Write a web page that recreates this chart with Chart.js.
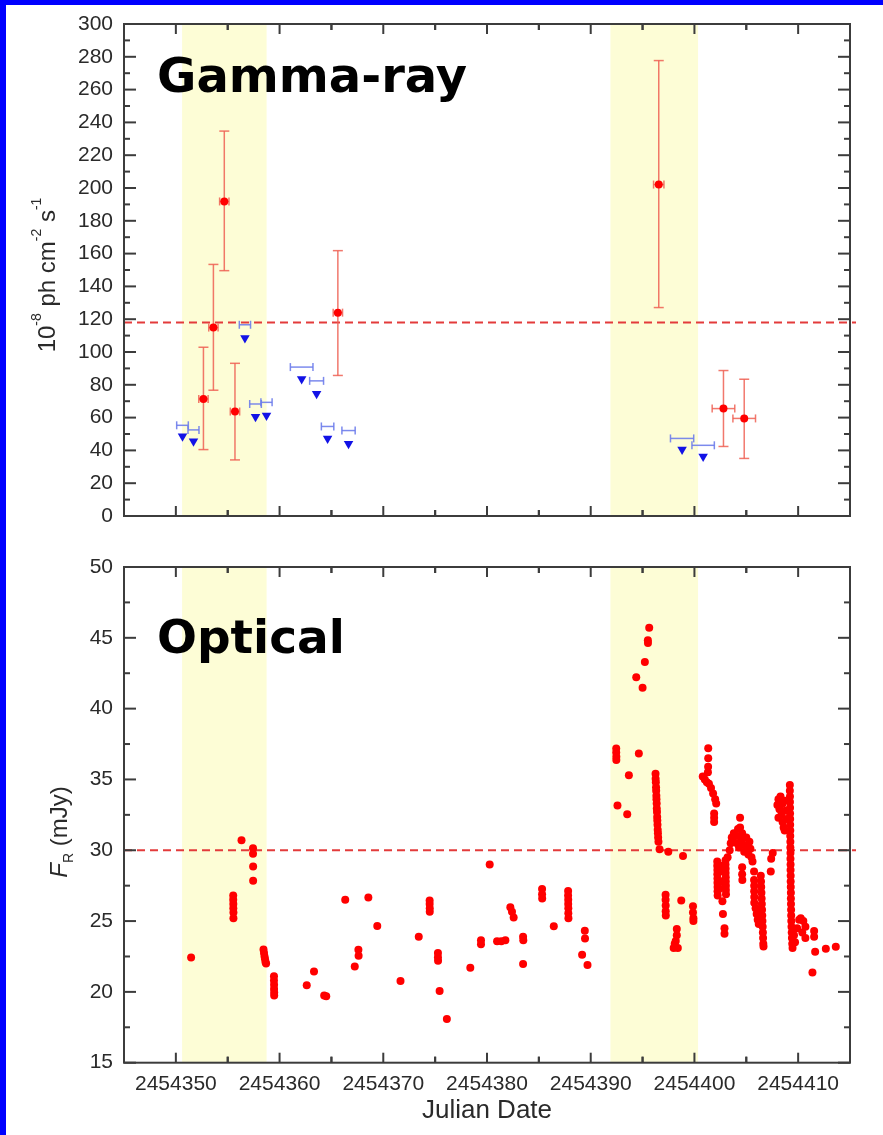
<!DOCTYPE html>
<html>
<head>
<meta charset="utf-8">
<script src="https://cdn.jsdelivr.net/npm/chart.js@4.4.1/dist/chart.umd.min.js"></script>
<style>
html, body { margin: 0; padding: 0; background: #fff; }
#wrap { position: relative; width: 883px; height: 1135px; overflow: hidden; background: #fff; }
#gamma { position: absolute; left: 0; top: 0; }
#optical { position: absolute; left: 0; top: 540px; }
.edge { position: absolute; background: #0000ff; }
</style>
</head>
<body>
<div id="wrap">
  <canvas id="gamma" width="883" height="540"></canvas>
  <canvas id="optical" width="883" height="595"></canvas>
  <div class="edge" style="left:0;top:0;width:6px;height:1135px"></div>
  <div class="edge" style="left:0;top:0;width:883px;height:5px"></div>
</div>
<script>
// axes
var JD0 = 2454350;
var xTicks = [2454350, 2454360, 2454370, 2454380, 2454390, 2454400, 2454410];
var gammaTicks = [0, 20, 40, 60, 80, 100, 120, 140, 160, 180, 200, 220, 240, 260, 280, 300];
var opticalTicks = [15, 20, 25, 30, 35, 40, 45, 50];
var flareBands = [[2454350.6, 2454358.75], [2454391.9, 2454400.35]];
var gammaMean = 118;
var opticalMean = 30;

// gamma-ray detections (1e-8 ph cm-2 s-1)
var detDay    = [2454352.66, 2454353.62, 2454354.67, 2454355.70, 2454365.62, 2454396.56, 2454402.80, 2454404.80];
var detFlux   = [71.4, 114.9, 191.8, 63.7, 124.0, 202.1, 65.5, 59.5];
var detLow    = [40.5, 76.7, 149.6, 34.2, 85.7, 127.1, 42.4, 35.1];
var detHigh   = [102.9, 153.4, 234.7, 93.1, 161.8, 277.7, 88.7, 83.4];
var detDayErr = [0.45, 0.45, 0.45, 0.45, 0.45, 0.5, 1.09, 1.09];

// gamma-ray upper limits
var ulDay    = [2454350.64, 2454351.70, 2454356.66, 2454357.68, 2454358.74, 2454362.13, 2454363.57, 2454364.63, 2454366.65, 2454398.81, 2454400.84];
var ulFlux   = [55.3, 52.5, 116.6, 68.3, 69.3, 90.8, 82.4, 54.6, 52.1, 47.3, 43.1];
var ulArrow  = [48.7, 45.6, 108.6, 60.5, 61.3, 83.6, 74.6, 47.3, 44.1, 40.5, 36.3];
var ulDayErr = [0.56, 0.53, 0.54, 0.56, 0.54, 1.09, 0.67, 0.6, 0.64, 1.12, 1.08];

// optical R-band flux, day = JD - JD0
var optDay = [
  1.47,
  5.53, 5.53, 5.54, 5.54, 5.55, 5.55,
  6.33,
  7.44, 7.44, 7.45, 7.45,
  8.45, 8.5, 8.55, 8.6, 8.65, 8.7,
  9.46, 9.46, 9.47, 9.47, 9.48, 9.48,
  12.62, 13.32, 14.3, 14.5, 16.33, 17.25, 17.6, 17.62, 18.56, 19.42, 21.66, 23.42,
  24.47, 24.47, 24.48, 24.48,
  25.27, 25.27, 25.28, 25.43, 26.13,
  28.39, 29.42, 29.42, 30.26, 30.97, 31.38, 31.77,
  32.25, 32.41, 32.57, 33.48, 33.5, 33.48,
  35.31, 35.31, 35.32, 36.44,
  37.82, 37.82, 37.83, 37.83, 37.84, 37.84, 37.85,
  39.17, 39.43, 39.45, 39.69,
  42.46, 42.46, 42.47, 42.47, 42.58, 43.52, 43.68,
  44.39, 44.64, 45.0, 45.22, 45.51, 45.52, 45.64,
  46.25, 46.26, 46.28, 46.3, 46.31, 46.33, 46.34, 46.36, 46.37, 46.39, 46.41, 46.42, 46.44, 46.46, 46.48, 46.5, 46.53,
  46.64, 47.48, 48.9,
  47.22, 47.22, 47.23, 47.23, 47.24,
  48.3, 48.3, 48.2, 48.1, 48.0, 48.4,
  48.73, 49.86, 49.86, 49.9, 49.9,
  51.33, 51.33, 51.32, 51.3, 50.8, 51.0, 51.2, 51.4, 51.6, 51.8, 52.0, 52.1, 51.9, 51.9, 51.9,
  52.2, 52.2, 52.21, 52.21, 52.22, 52.22, 52.23, 52.23, 52.24,
  53.0, 53.0, 53.01, 53.01, 53.02, 53.02, 53.03, 53.03, 53.04,
  52.5, 52.6, 52.4, 52.7, 52.7, 52.75, 52.9, 52.9,
  53.2, 53.4, 53.5, 53.6, 53.7, 53.8, 54.0, 54.1, 54.2, 54.3, 54.4, 54.4, 54.5, 54.6, 54.7, 54.8, 55.0, 55.1, 55.2, 55.3, 55.4, 55.5, 55.6,
  54.6, 54.6, 54.62,
  55.75, 55.75, 55.76, 55.76, 55.77, 55.77,
  55.9, 56.0, 56.1, 56.2,
  56.4, 56.42, 56.44, 56.46, 56.48, 56.5, 56.52, 56.54, 56.56, 56.58, 56.6, 56.62, 56.64, 56.66,
  57.55, 57.4, 57.36,
  58.0, 58.1, 58.2, 58.3, 58.4, 58.5, 58.5, 58.6, 58.7, 58.8, 58.9, 58.7, 58.1,
  59.2, 59.2, 59.21, 59.21, 59.22, 59.22, 59.23, 59.23, 59.24, 59.24, 59.25, 59.25, 59.26, 59.26, 59.27,
  59.27, 59.28, 59.28, 59.29, 59.3, 59.3, 59.31, 59.32, 59.33, 59.34, 59.36, 59.38, 59.4, 59.43, 59.46,
  59.6, 59.7, 59.9, 60.1, 60.25, 60.5, 60.7, 60.4, 60.7,
  61.54, 61.54, 61.38, 61.64, 62.67, 63.63
];
var optFlux = [
  22.43,
  26.8, 26.5, 26.2, 25.9, 25.6, 25.2,
  30.7,
  30.15, 29.75, 28.85, 27.85,
  23.0, 22.75, 22.5, 22.3, 22.1, 22.0,
  21.1, 20.8, 20.5, 20.2, 19.95, 19.75,
  20.47, 21.44, 19.75, 19.7, 26.5, 21.8, 22.97, 22.55, 26.67, 24.66, 20.77, 23.9,
  26.45, 26.2, 25.9, 25.65,
  22.75, 22.45, 22.2, 20.07, 18.08,
  21.7, 23.64, 23.37, 29.0, 23.58, 23.58, 23.64,
  25.97, 25.65, 25.25, 23.9, 23.64, 21.97,
  27.26, 26.9, 26.59, 24.63,
  27.12, 26.8, 26.5, 26.2, 25.9, 25.55, 25.2,
  22.62, 24.31, 23.77, 21.89,
  37.18, 36.9, 36.6, 36.37, 33.16, 32.54, 35.3,
  42.22, 36.83, 41.47, 43.29, 44.82, 44.63, 45.71,
  35.4, 35.05, 34.8, 34.45, 34.2, 33.85, 33.6, 33.3, 32.95, 32.7, 32.35, 32.1, 31.8, 31.45, 31.2, 30.9, 30.6,
  30.07, 29.9, 29.6,
  26.85, 26.5, 26.1, 25.7, 25.4,
  24.44, 24.0, 23.6, 23.4, 23.1, 23.1,
  26.45, 26.05, 25.6, 25.2, 25.0,
  37.2, 36.5, 35.9, 35.5, 35.2, 35.0, 34.8, 34.7, 34.4, 34.0, 33.6, 33.3, 32.6, 32.3, 32.0,
  29.2, 28.9, 28.6, 28.3, 28.0, 27.7, 27.4, 27.1, 26.8,
  29.3, 29.0, 28.7, 28.4, 28.1, 27.8, 27.5, 27.2, 26.9,
  28.5, 27.8, 27.3, 28.9, 26.4, 25.5, 24.5, 24.1,
  29.5, 30.0, 30.5, 30.9, 30.6, 31.2, 31.0, 30.5, 31.5, 30.2, 32.3, 31.6, 30.8, 31.2, 30.4, 29.9, 30.9, 30.3, 29.7, 30.6, 30.1, 29.5, 29.2,
  28.8, 28.3, 27.9,
  28.5, 27.9, 27.5, 27.1, 26.7, 26.3,
  25.9, 25.5, 25.1, 24.8,
  28.2, 27.8, 27.4, 27.0, 26.6, 26.2, 25.8, 25.4, 25.0, 24.6, 24.2, 23.8, 23.4, 23.2,
  29.8, 29.4, 28.5,
  33.2, 33.6, 32.9, 33.8, 32.5, 33.3, 32.0, 31.6, 33.5, 32.8, 32.2, 31.4, 32.3,
  34.6, 34.2, 33.8, 33.4, 33.0, 32.6, 32.2, 31.8, 31.4, 31.0, 30.6, 30.2, 29.8, 29.4, 29.0,
  28.6, 28.2, 27.8, 27.4, 27.0, 26.6, 26.2, 25.8, 25.4, 25.0, 24.6, 24.2, 23.8, 23.4, 23.1,
  24.0, 23.5, 24.5, 25.1, 25.2, 25.0, 24.6, 24.2, 23.8,
  24.3, 23.9, 21.36, 22.83, 23.05, 23.18
];

var TXT = '#2a2a2a';
var FONT = '"Liberation Sans", Arial, sans-serif';

function line(ctx, x0, y0, x1, y1) {
  ctx.beginPath(); ctx.moveTo(x0, y0); ctx.lineTo(x1, y1); ctx.stroke();
}

function drawParts(ctx, parts, cx, cy) {
  ctx.save();
  ctx.translate(cx, cy);
  ctx.rotate(-Math.PI / 2);
  ctx.fillStyle = TXT;
  ctx.textBaseline = 'alphabetic';
  var w = 0;
  parts.forEach(function (p) { ctx.font = p.font; w += ctx.measureText(p.text).width; });
  var x = -w / 2;
  parts.forEach(function (p) {
    ctx.font = p.font;
    ctx.fillText(p.text, x, p.dy);
    x += ctx.measureText(p.text).width;
  });
  ctx.restore();
}

function drawGammaErrors(chart) {
  var ctx = chart.ctx, xs = chart.scales.x, ys = chart.scales.y;
  ctx.lineWidth = 1.5;
  ctx.strokeStyle = 'rgba(238,96,84,0.85)';
  for (var i = 0; i < detDay.length; i++) {
    var px = xs.getPixelForValue(detDay[i]), py = ys.getPixelForValue(detFlux[i]);
    var pt = ys.getPixelForValue(detHigh[i]), pb = ys.getPixelForValue(detLow[i]);
    var pl = xs.getPixelForValue(detDay[i] - detDayErr[i]), pr = xs.getPixelForValue(detDay[i] + detDayErr[i]);
    line(ctx, px, pt, px, pb);
    line(ctx, px - 5, pt, px + 5, pt);
    line(ctx, px - 5, pb, px + 5, pb);
    line(ctx, pl, py, pr, py);
    line(ctx, pl, py - 4, pl, py + 4);
    line(ctx, pr, py - 4, pr, py + 4);
  }
  ctx.strokeStyle = 'rgba(110,125,235,0.9)';
  for (var j = 0; j < ulDay.length; j++) {
    var uy = ys.getPixelForValue(ulFlux[j]);
    var ul = xs.getPixelForValue(ulDay[j] - ulDayErr[j]), ur = xs.getPixelForValue(ulDay[j] + ulDayErr[j]);
    line(ctx, ul, uy, ur, uy);
    line(ctx, ul, uy - 4, ul, uy + 4);
    line(ctx, ur, uy - 4, ur, uy + 4);
  }
}

function decor(opt) {
  return {
    id: 'decor',
    beforeDatasetsDraw: function (chart) {
      var ctx = chart.ctx, a = chart.chartArea, xs = chart.scales.x, ys = chart.scales.y;
      ctx.save();
      ctx.fillStyle = '#fdfdd6';
      flareBands.forEach(function (b) {
        var x0 = xs.getPixelForValue(b[0]), x1 = xs.getPixelForValue(b[1]);
        ctx.fillRect(x0, a.top, x1 - x0, a.bottom - a.top);
      });
      ctx.fillStyle = '#000';
      ctx.font = 'bold ' + opt.labelSize + 'px "DejaVu Sans", Verdana, sans-serif';
      ctx.textBaseline = 'alphabetic';
      ctx.fillText(opt.label, a.left + 33, a.top + opt.labelBase);
      var ym = ys.getPixelForValue(opt.mean);
      ctx.strokeStyle = '#e33b3b';
      ctx.lineWidth = 2;
      ctx.setLineDash([8, 5]);
      line(ctx, a.left, ym, a.right + 6, ym);
      ctx.setLineDash([]);
      if (opt.errors) opt.errors(chart);
      ctx.restore();
    },
    afterDraw: function (chart) {
      var ctx = chart.ctx, a = chart.chartArea, xs = chart.scales.x, ys = chart.scales.y;
      ctx.save();
      ctx.strokeStyle = '#3c3c3c';
      ctx.lineWidth = 2;
      ctx.strokeRect(a.left, a.top, a.right - a.left, a.bottom - a.top);
      var xmin = xs.min, xmax = xs.max;
      xTicks.forEach(function (v) {
        var p = xs.getPixelForValue(v);
        line(ctx, p, a.bottom, p, a.bottom - 10);
        line(ctx, p, a.top, p, a.top + 10);
        [v - 5, v + 5].forEach(function (m) {
          if (m > xmin && m < xmax) {
            var q = xs.getPixelForValue(m);
            line(ctx, q, a.bottom, q, a.bottom - 6);
            line(ctx, q, a.top, q, a.top + 6);
          }
        });
      });
      var yt = ys.ticks, half = (yt[1].value - yt[0].value) / 2;
      yt.forEach(function (t) {
        var p = ys.getPixelForValue(t.value);
        line(ctx, a.left, p, a.left + 12, p);
        line(ctx, a.right, p, a.right - 12, p);
        if (t.value + half < ys.max) {
          var q = ys.getPixelForValue(t.value + half);
          line(ctx, a.left, q, a.left + 6, q);
          line(ctx, a.right, q, a.right - 6, q);
        }
      });
      drawParts(ctx, opt.yTitle, opt.yTitleX, opt.yTitleY);
      if (opt.xTitle) {
        ctx.fillStyle = TXT;
        ctx.font = '26px ' + FONT;
        ctx.textAlign = 'center';
        ctx.textBaseline = 'middle';
        ctx.fillText(opt.xTitle, (a.left + a.right) / 2, opt.xTitleY);
      }
      ctx.restore();
    }
  };
}

function panelOptions(ymin, ymax, yticks, showX, xHeight, padTop) {
  return {
    responsive: false,
    animation: false,
    events: [],
    layout: { padding: { top: padTop, right: 33, left: 0, bottom: 0 } },
    plugins: { legend: { display: false }, tooltip: { enabled: false } },
    scales: {
      x: {
        type: 'linear', min: 2454345, max: 2454415,
        afterBuildTicks: function (s) { s.ticks = xTicks.map(function (v) { return { value: v }; }); },
        afterFit: function (s) { s.height = xHeight; },
        grid: { display: false, drawTicks: false },
        border: { display: false },
        ticks: {
          display: showX, padding: 9, color: TXT, maxRotation: 0,
          font: { family: FONT, size: 21 },
          callback: function (v) { return String(v); }
        }
      },
      y: {
        min: ymin, max: ymax,
        afterBuildTicks: function (s) { s.ticks = yticks.map(function (v) { return { value: v }; }); },
        afterFit: function (s) { s.width = 124; },
        grid: { display: false, drawTicks: false },
        border: { display: false },
        ticks: { padding: 11, color: TXT, font: { family: FONT, size: 21 } }
      }
    }
  };
}

new Chart(document.getElementById('gamma'), {
  type: 'scatter',
  data: {
    datasets: [
      {
        label: 'detections',
        data: detDay.map(function (d, i) { return { x: d, y: detFlux[i] }; }),
        pointStyle: 'circle', pointRadius: 4, backgroundColor: '#ff0000', borderWidth: 0
      },
      {
        label: 'upper limits',
        data: ulDay.map(function (d, i) { return { x: d, y: ulArrow[i] }; }),
        pointStyle: 'triangle', rotation: 180, pointRadius: 5.5, backgroundColor: '#1212e6', borderWidth: 0
      }
    ]
  },
  options: panelOptions(0, 300, gammaTicks, false, 24, 24),
  plugins: [decor({
    label: 'Gamma-ray', labelSize: 48, labelBase: 68, mean: gammaMean, errors: drawGammaErrors,
    yTitleX: 47, yTitleY: 275,
    yTitle: [
      { text: '10', font: '24px ' + FONT, dy: 8 },
      { text: '-8', font: '14px ' + FONT, dy: -6 },
      { text: ' ph cm', font: '24px ' + FONT, dy: 8 },
      { text: '-2', font: '14px ' + FONT, dy: -6 },
      { text: ' s', font: '24px ' + FONT, dy: 8 },
      { text: '-1', font: '14px ' + FONT, dy: -6 }
    ]
  })]
});

new Chart(document.getElementById('optical'), {
  type: 'scatter',
  data: {
    datasets: [{
      label: 'optical',
      data: optDay.map(function (d, i) { return { x: JD0 + d, y: optFlux[i] }; }),
      pointStyle: 'circle', pointRadius: 4, backgroundColor: '#ff0000', borderWidth: 0
    }]
  },
  options: panelOptions(15, 50, opticalTicks, true, 72.3, 27),
  plugins: [decor({
    label: 'Optical', labelSize: 47, labelBase: 86, mean: opticalMean,
    yTitleX: 58, yTitleY: 292, xTitle: 'Julian Date', xTitleY: 571,
    yTitle: [
      { text: 'F', font: 'italic 24px ' + FONT, dy: 9 },
      { text: 'R', font: '14px ' + FONT, dy: 15 },
      { text: ' (mJy)', font: '24px ' + FONT, dy: 9 }
    ]
  })]
});
</script>
</body>
</html>
